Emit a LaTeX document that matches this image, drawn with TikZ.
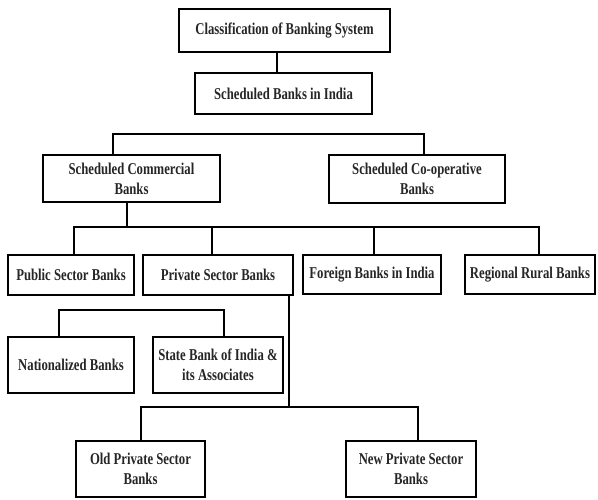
\documentclass[tikz,border=0pt]{standalone}
\usepackage{fontspec}
\setmainfont{Liberation Serif}[FakeStretch=0.77]
\begin{document}
\begin{tikzpicture}[x=1pt,y=-1pt,
  box/.style={draw=black, line width=1.8pt, rectangle, inner sep=0pt, align=center,
    font=\fontsize{16.5}{20}\selectfont\bfseries, text=black!85},
  conn/.style={draw=black, line width=1.6pt}]
\useasboundingbox[fill=white] (0,0) rectangle (598,500);
% nodes
\node[box, minimum width=211pt, minimum height=43pt] (cls) at (284.5,30.5) {Classification of Banking System};
\node[box, minimum width=177pt, minimum height=41pt] (sbi) at (283.5,93.5) {Scheduled Banks in India};
\node[box, minimum width=177pt, minimum height=47pt] (scb) at (131.5,178.5) {Scheduled Commercial\\Banks};
\node[box, minimum width=176pt, minimum height=48pt] (sco) at (417,179) {Scheduled Co-operative\\Banks};
\node[box, minimum width=126pt, minimum height=40pt] (pub) at (71,275) {Public Sector Banks};
\node[box, minimum width=150pt, minimum height=40pt] (pvt) at (218,275) {Private Sector Banks};
\node[box, minimum width=138pt, minimum height=39pt] (for) at (372,274.5) {Foreign Banks in India};
\node[box, minimum width=130pt, minimum height=39pt] (rrb) at (530,274.5) {Regional Rural Banks};
\node[box, minimum width=126pt, minimum height=56pt] (nat) at (71,365) {Nationalized Banks};
\node[box, minimum width=130pt, minimum height=56pt] (sbia) at (218,365) {State Bank of India \&\\its Associates};
\node[box, minimum width=129pt, minimum height=56pt] (old) at (140.5,469) {Old Private Sector\\Banks};
\node[box, minimum width=130pt, minimum height=56pt] (new) at (411,469) {New Private Sector\\Banks};
% junction coordinates
\coordinate (j1) at (113,134);
\coordinate (j2) at (127,227);
\coordinate (j3) at (59,310);
\coordinate (j4) at (289,407);
% connectors
\draw[conn] ([xshift=-7.5pt]cls.south) -- ([xshift=-7.5pt]cls.south |- sbi.north);
\draw[conn] (scb.north -| j1) -- (j1) -| ([xshift=7pt]sco.north);
\draw[conn] (scb.south -| j2) -- (j2);
\draw[conn] ([xshift=3pt]pub.north) |- ([xshift=9pt]rrb.north |- j2) -- ([xshift=9pt]rrb.north);
\draw[conn] ([xshift=-6pt]pvt.north) -- ([xshift=-6pt]pvt.north |- j2);
\draw[conn] ([xshift=2pt]for.north) -- ([xshift=2pt]for.north |- j2);
\draw[conn] ([xshift=-12pt]nat.north) |- ([xshift=6pt]sbia.north |- j3) -- ([xshift=6pt]sbia.north);
\draw[conn] (pvt.south -| j4) -- (j4);
\draw[conn] ([xshift=0.5pt]old.north) |- ([xshift=7pt]new.north |- j4) -- ([xshift=7pt]new.north);
\end{tikzpicture}
\end{document}
